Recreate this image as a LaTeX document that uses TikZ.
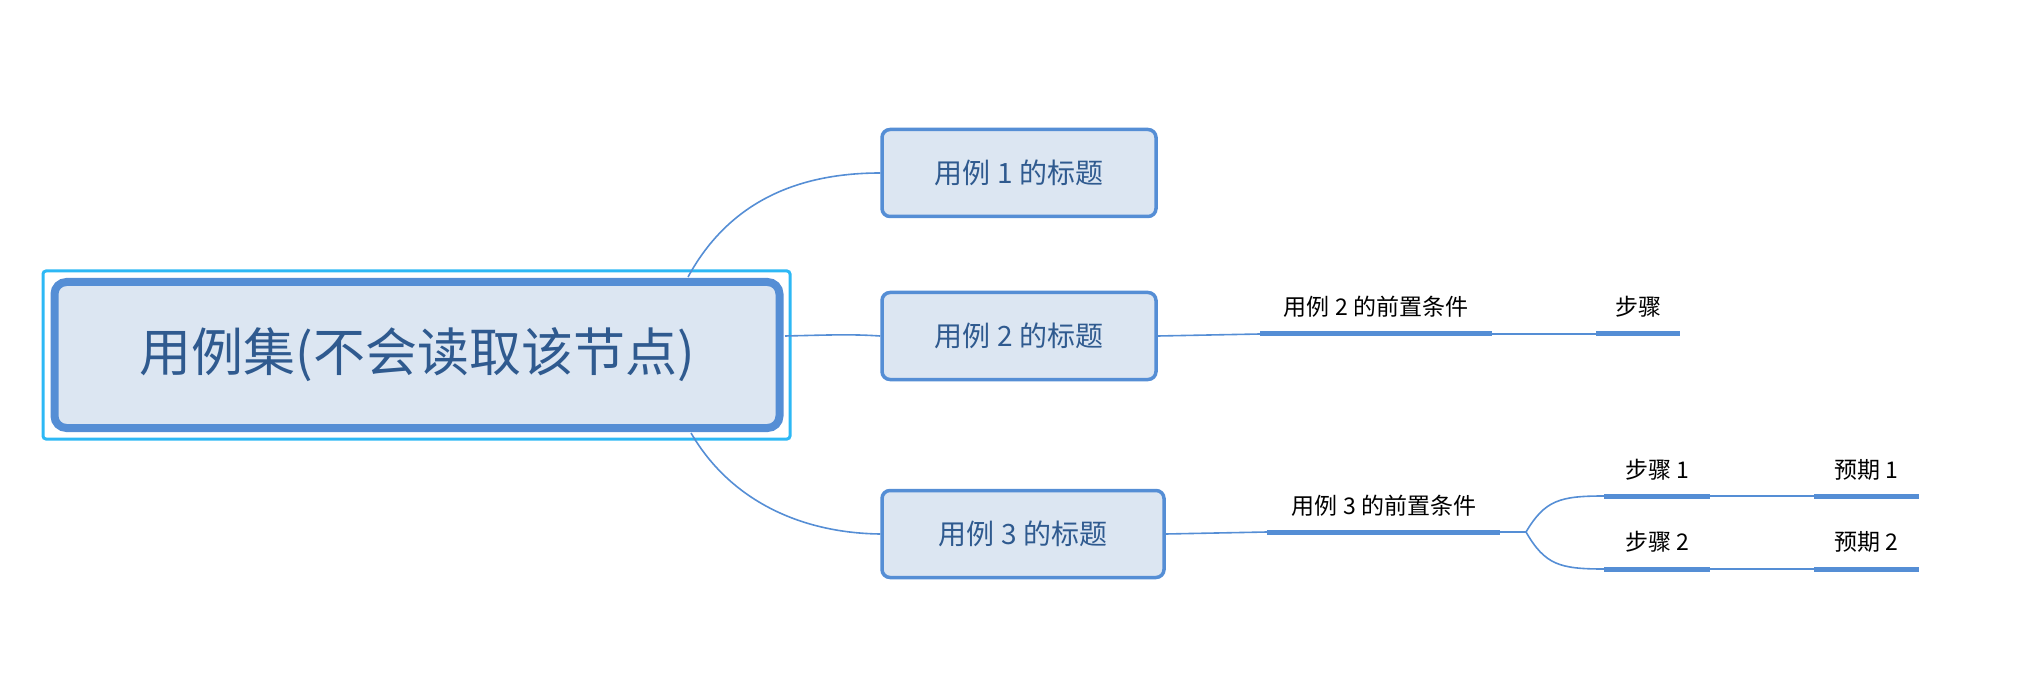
\documentclass[tikz,border=0pt]{standalone}
\usepackage{fontspec}
\setmainfont{Noto Sans CJK SC}
\begin{document}
\definecolor{bd}{HTML}{558ED5}
\definecolor{fl}{HTML}{DCE6F2}
\definecolor{tx}{HTML}{2F5A8F}
\definecolor{sel}{HTML}{2DB8F5}
\begin{tikzpicture}[x=1pt,y=-1pt,
  topic/.style={draw=bd,line width=3.5pt,fill=fl,rounded corners=8pt,text=tx,font=\fontsize{28}{32}\selectfont,minimum height=87pt,inner sep=0pt},
  lbl/.style={font=\fontsize{23}{26}\selectfont,text=black,anchor=base},
  con/.style={draw=bd,line width=1.6pt},
  ul/.style={draw=bd,line width=5pt}]
\useasboundingbox (0,0) rectangle (2036,700);
\draw[sel,line width=3pt,rounded corners=3pt] (43,271) rectangle (790,439);
\node[topic,line width=8pt,rounded corners=12pt,minimum width=725pt,minimum height=146pt,font=\fontsize{52}{58}\selectfont] (m) at (417,355) {用例集(不会读取该节点)};
\node[topic,minimum width=274pt] (t1) at (1019,173) {用例 1 的标题};
\node[topic,minimum width=274pt] (t2) at (1019,336) {用例 2 的标题};
\node[topic,minimum width=282pt] (t3) at (1023,534) {用例 3 的标题};
\coordinate (m1) at (688,277);
\coordinate (m2) at (785,336);
\coordinate (m3) at (691,433);
\draw[con] (m1) .. controls (730,200) and (800,173) .. (t1.west);
\draw[con] (m2) .. controls (830,335) and (850,334) .. (t2.west);
\draw[con] (m3) .. controls (730,500) and (800,533) .. (t3.west);
% case 2
\coordinate (a1) at (1260,334); \coordinate (a2) at (1492,334);
\coordinate (b1) at (1596,334); \coordinate (b2) at (1680,334);
\draw[con] (t2.east) -- (a1);
\draw[ul] (a1) -- (a2);
\draw[con] (a2) -- (b1);
\draw[ul] (b1) -- (b2);
\node[lbl] (l2) at (1376,316) {用例 2 的前置条件};
\node[lbl] (s0) at (1638,316) {步骤};
% case 3
\coordinate (c1) at (1267,532); \coordinate (c2) at (1500,532); \coordinate (f) at (1526,532);
\coordinate (d1) at (1604,496); \coordinate (d2) at (1710,496);
\coordinate (e1) at (1814,496); \coordinate (e2) at (1919,496);
\coordinate (g1) at (1604,569); \coordinate (g2) at (1710,569);
\coordinate (h1) at (1814,569); \coordinate (h2) at (1919,569);
\draw[con] (t3.east) -- (c1);
\draw[ul] (c1) -- (c2);
\draw[con] (c2) -- (f);
\draw[con] (f) .. controls (1545,500) and (1560,496) .. (d1);
\draw[con] (f) .. controls (1545,565) and (1560,569) .. (g1);
\draw[ul] (d1) -- (d2); \draw[con] (d2) -- (e1); \draw[ul] (e1) -- (e2);
\draw[ul] (g1) -- (g2); \draw[con] (g2) -- (h1); \draw[ul] (h1) -- (h2);
\node[lbl] (l3) at (1384,514) {用例 3 的前置条件};
\node[lbl] (s1) at (1657,478) {步骤 1};
\node[lbl] (s2) at (1657,550) {步骤 2};
\node[lbl] (p1) at (1866,478) {预期 1};
\node[lbl] (p2) at (1866,550) {预期 2};
\end{tikzpicture}
\end{document}
